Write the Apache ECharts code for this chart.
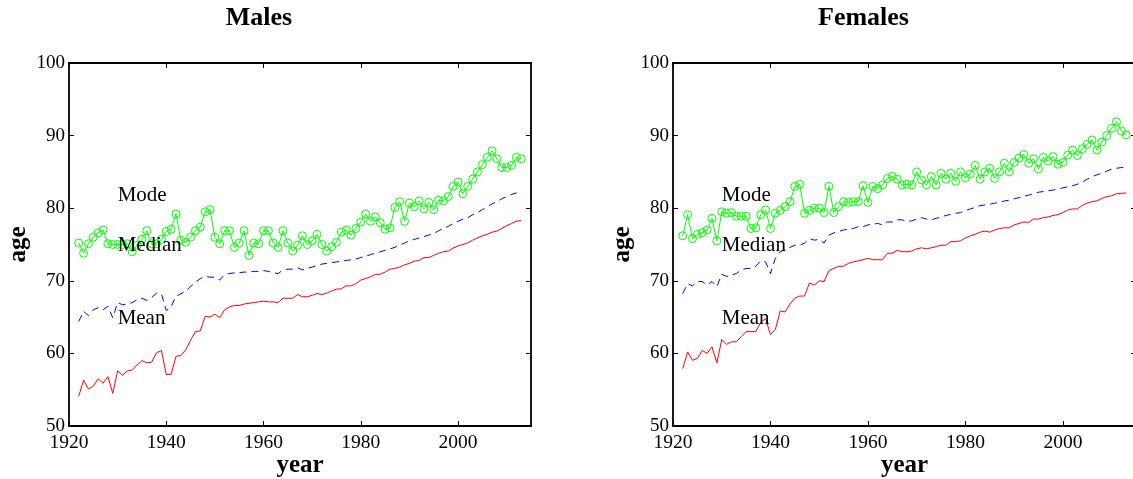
<!DOCTYPE html>
<html>
<head>
<meta charset="utf-8">
<script src="https://cdn.jsdelivr.net/npm/echarts@6/dist/echarts.min.js"></script>
<style>html,body{margin:0;padding:0;background:#fff;}#c{width:1133px;height:479px;}</style>
</head>
<body>
<div id="c"></div>
<script>
const years = [1922,1923,1924,1925,1926,1927,1928,1929,1930,1931,1932,1933,1934,1935,1936,1937,1938,1939,1940,1941,1942,1943,1944,1945,1946,1947,1948,1949,1950,1951,1952,1953,1954,1955,1956,1957,1958,1959,1960,1961,1962,1963,1964,1965,1966,1967,1968,1969,1970,1971,1972,1973,1974,1975,1976,1977,1978,1979,1980,1981,1982,1983,1984,1985,1986,1987,1988,1989,1990,1991,1992,1993,1994,1995,1996,1997,1998,1999,2000,2001,2002,2003,2004,2005,2006,2007,2008,2009,2010,2011,2012,2013];

const malesMode = [75.2,73.8,75.1,76.0,76.6,77.0,75.1,75.0,75.0,75.0,75.1,74.0,74.9,75.7,76.9,75.1,75.1,75.7,76.8,77.1,79.2,75.6,75.3,76.0,76.9,77.4,79.5,79.8,76.0,75.1,76.9,76.9,74.6,75.2,76.9,73.5,75.2,75.1,76.9,76.9,75.2,74.6,76.9,75.2,74.1,74.9,76.2,75.0,75.5,76.4,75.0,74.1,74.7,75.3,76.7,77.0,76.3,77.2,78.1,79.2,78.2,78.8,78.0,77.1,77.3,80.1,80.9,78.2,80.7,80.2,81.0,79.9,80.8,79.8,81.1,81.0,81.6,83.0,83.6,82.0,83.0,84.0,85.0,86.0,87.0,87.9,86.8,85.6,85.6,85.9,87.0,86.8];
const malesMedian = [64.4,65.8,65.2,66.0,66.3,66.0,66.5,64.9,67.0,66.7,66.8,67.0,67.4,67.6,67.3,67.7,68.3,68.2,65.9,66.4,67.9,68.2,68.6,69.2,69.8,70.3,70.6,70.5,70.5,70.1,70.9,71.0,71.1,71.1,71.2,71.2,71.3,71.3,71.4,71.3,71.1,71.0,71.5,71.6,71.6,71.8,71.5,71.7,71.9,72.1,72.3,72.4,72.5,72.6,72.7,72.8,72.9,73.0,73.2,73.4,73.6,73.8,74.0,74.2,74.4,74.6,74.9,75.2,75.5,75.7,75.9,76.1,76.3,76.5,76.9,77.2,77.5,77.9,78.2,78.5,78.7,79.1,79.4,79.8,80.2,80.6,80.9,81.3,81.6,81.9,82.1,82.3];
const malesMean = [54.1,56.3,55.1,55.5,56.5,55.9,56.8,54.5,57.6,57.0,57.6,57.7,58.4,59.0,58.7,58.8,60.1,60.4,57.1,57.1,59.6,59.7,60.5,61.8,63.0,63.1,65.1,65.0,65.4,64.9,66.0,66.4,66.6,66.6,66.8,66.9,67.0,67.1,67.2,67.1,67.1,67.0,67.6,67.6,67.6,68.1,67.8,67.8,68.0,68.25,68.1,68.3,68.6,68.85,68.9,69.3,69.3,69.6,70.1,70.3,70.55,70.9,70.9,71.2,71.6,71.7,71.9,72.2,72.4,72.7,72.8,73.2,73.2,73.5,73.8,74.0,74.1,74.5,74.8,75.0,75.2,75.6,75.9,76.2,76.4,76.7,76.85,77.2,77.6,77.9,78.2,78.3];

const femalesMode = [76.2,79.1,75.8,76.4,76.6,77.0,78.6,75.5,79.5,79.3,79.4,78.9,78.9,78.9,77.2,77.3,79.1,79.75,77.2,79.3,79.7,80.2,80.9,83.0,83.3,79.3,79.7,80.0,80.0,79.4,83.0,79.4,80.2,80.9,80.8,80.9,80.9,83.1,80.8,83.0,82.7,83.2,84.1,84.4,84.0,83.2,83.3,83.2,85.0,83.9,83.2,84.35,83.2,84.8,84.0,84.8,83.7,85.0,84.2,84.7,85.9,84.0,85.0,85.5,84.1,85.0,86.2,85.0,86.3,86.9,87.4,86.2,86.8,85.4,87.0,86.5,87.1,86.05,86.3,87.3,88.0,87.25,88.2,88.8,89.4,88.0,89.1,90.0,91.0,91.9,90.65,90.1];
const femalesMedian = [68.25,69.6,69.3,69.9,69.9,69.4,69.9,69.2,70.9,70.6,70.8,71.0,71.5,71.7,71.7,72.0,72.75,72.6,71.0,73.1,74.0,74.3,74.6,74.9,74.9,75.2,75.8,75.6,75.7,75.2,76.3,76.6,76.8,77.0,77.1,77.2,77.45,77.45,77.7,77.8,77.9,77.7,78.1,78.1,78.4,78.4,78.2,78.25,78.5,78.7,78.5,78.4,78.6,78.8,79.0,79.15,79.3,79.4,79.65,79.9,80.1,80.35,80.45,80.55,80.7,80.8,81.0,81.1,81.3,81.45,81.65,81.8,82.0,82.2,82.3,82.4,82.5,82.65,82.8,82.95,83.1,83.3,83.6,84.0,84.35,84.6,84.8,85.1,85.4,85.5,85.6,85.65];
const femalesMean = [57.9,60.2,59.05,59.3,60.4,60.0,60.9,58.7,61.9,61.25,61.6,61.6,62.3,63.0,63.0,63.0,64.3,64.8,62.6,63.3,65.85,65.7,66.8,67.6,67.9,67.9,69.7,69.4,70.0,69.9,71.4,71.7,72.0,72.0,72.4,72.6,72.75,72.9,73.1,72.9,72.9,72.9,73.8,73.8,74.2,74.0,74.0,74.1,74.4,74.55,74.4,74.55,74.7,74.9,74.9,75.4,75.4,75.5,75.9,76.2,76.4,76.7,76.85,76.7,77.0,77.2,77.3,77.3,77.7,77.9,78.1,78.05,78.5,78.5,78.7,78.8,79.0,79.1,79.4,79.75,79.9,79.9,80.4,80.7,80.9,81.0,81.35,81.6,81.7,82.0,82.05,82.1];

const xTicks = [1920,1940,1960,1980,2000];
const yTicks = [50,60,70,80,90,100];
const panelTitles = ['Males','Females'];
const seriesNames = ['Mode','Median','Mean'];
const labelYear = 1930;
const labelValues = [81.8,74.9,64.8];

const FONT = 'Liberation Serif';
const pair = (ys) => years.map((y,i)=>[y, ys[i]]);
const panels = [
  {mode: malesMode, median: malesMedian, mean: malesMean},
  {mode: femalesMode, median: femalesMedian, mean: femalesMean}
];

const grids = [
  {left: 69, top: 63, width: 462, height: 363, outerBoundsMode: 'none', containLabel: false},
  {left: 673, top: 63, width: 463, height: 363, outerBoundsMode: 'none', containLabel: false}
];

const axLine = {show: true, onZero: false, lineStyle: {color: '#000', width: 1.8}};
const tickStyle = {color: '#000', width: 1};
const xAxis = [], yAxis = [], series = [], title = [];

grids.forEach((g, i) => {
  xAxis.push({
    type: 'value', gridIndex: i, min: 1920, max: 2015, position: 'bottom',
    axisLine: axLine,
    axisTick: {show: true, inside: true, length: 5, customValues: xTicks, lineStyle: tickStyle},
    axisLabel: {customValues: xTicks, formatter: (v) => String(v), fontFamily: FONT, fontSize: 19.5, color: '#000', margin: 7},
    splitLine: {show: false},
    name: 'year', nameLocation: 'middle', nameGap: 27, nameMoveOverlap: false,
    nameTextStyle: {fontFamily: FONT, fontWeight: 'bold', fontSize: 25, color: '#000'}
  });
  xAxis.push({
    type: 'value', gridIndex: i, min: 1920, max: 2015, position: 'top',
    axisLine: axLine,
    axisTick: {show: true, inside: true, length: 5, customValues: xTicks, lineStyle: tickStyle},
    axisLabel: {show: false}, splitLine: {show: false}
  });
  yAxis.push({
    type: 'value', gridIndex: i, min: 50, max: 100, interval: 10, position: 'left',
    axisLine: axLine,
    axisTick: {show: true, inside: true, length: 5, lineStyle: tickStyle},
    axisLabel: {formatter: (v) => String(v), fontFamily: FONT, fontSize: 19, color: '#000', margin: 4},
    splitLine: {show: false},
    name: 'age', nameLocation: 'middle', nameGap: 38, nameRotate: 90, nameMoveOverlap: false,
    nameTextStyle: {fontFamily: FONT, fontWeight: 'bold', fontSize: 25, color: '#000'}
  });
  yAxis.push({
    type: 'value', gridIndex: i, min: 50, max: 100, interval: 10, position: 'right',
    axisLine: axLine,
    axisTick: {show: true, inside: true, length: 5, lineStyle: tickStyle},
    axisLabel: {show: false}, splitLine: {show: false}
  });
  title.push({
    text: panelTitles[i], left: g.left + g.width / 2 - 46, top: 0, textAlign: 'center',
    textStyle: {fontFamily: FONT, fontWeight: 'bold', fontSize: 26, color: '#000'}
  });
  const p = panels[i];
  const xi = i * 2, yi = i * 2;
  series.push({
    type: 'line', name: 'Mode', xAxisIndex: xi, yAxisIndex: yi, data: pair(p.mode),
    symbol: 'circle', symbolSize: 8, showAllSymbol: true,
    lineStyle: {color: '#00ff00', width: 1},
    itemStyle: {color: 'rgba(0,0,0,0)', borderColor: '#00ff00', borderWidth: 1},
    animation: false, silent: true, z: 3
  });
  series.push({
    type: 'line', name: 'Median', xAxisIndex: xi, yAxisIndex: yi, data: pair(p.median),
    symbol: 'none', lineStyle: {color: '#0000ff', width: 1, type: [7, 5]},
    animation: false, silent: true, z: 2
  });
  series.push({
    type: 'line', name: 'Mean', xAxisIndex: xi, yAxisIndex: yi, data: pair(p.mean),
    symbol: 'none', lineStyle: {color: '#ff0000', width: 1},
    animation: false, silent: true, z: 2
  });
  series.push({
    type: 'scatter', xAxisIndex: xi, yAxisIndex: yi, symbolSize: 0,
    itemStyle: {opacity: 1},
    data: seriesNames.map((n, k) => ({value: [labelYear, labelValues[k]], name: n})),
    label: {show: true, position: 'right', distance: 0, formatter: '{b}',
      fontFamily: FONT, fontSize: 21, color: '#000', opacity: 1},
    animation: false, silent: true, z: 5
  });
});

const chart = echarts.init(document.getElementById('c'), null, {renderer: 'canvas'});
chart.setOption({
  backgroundColor: '#fff',
  animation: false,
  title, grid: grids, xAxis, yAxis, series
});
</script>
</body>
</html>
